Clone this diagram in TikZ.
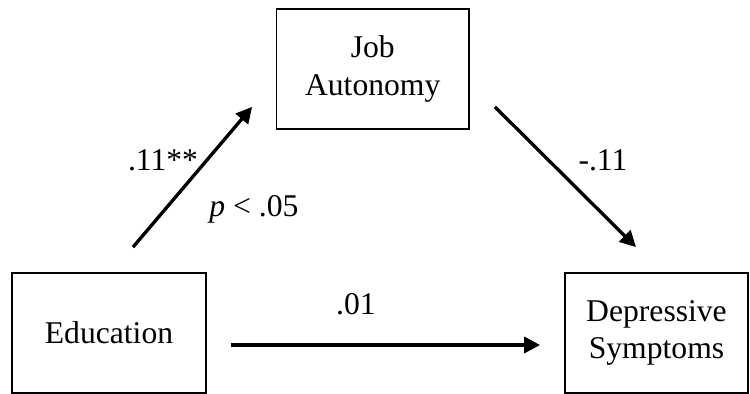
\documentclass[tikz,border=0pt]{standalone}
\usepackage{fontspec}
\setmainfont{Liberation Serif}
\usetikzlibrary{positioning,arrows.meta,calc}
\tikzset{
    >={Triangle[length=3.2mm,width=3.2mm]}
}

\begin{document}
\begin{tikzpicture}[
  varbox/.style={rectangle, draw, line width=1pt, minimum height=2.4cm, align=center, font=\fontsize{18}{21.5}\selectfont},
  pathlabel/.style={font=\fontsize{18}{21.5}\selectfont},
  arrowstyle/.style={->, line width=1.9pt}
]
  \useasboundingbox (0,0) rectangle (15,7.88);

  % The three variables
  \node[varbox, minimum width=3.85cm] (job) at (7.455,6.5)  {Job\\Autonomy};
  \node[varbox, minimum width=3.88cm] (edu) at (2.18,1.22)  {Education};
  \node[varbox, minimum width=3.66cm] (dep) at (13.13,1.22) {Depressive\\Symptoms};

  % Paths
  \draw[arrowstyle] ($(edu.north)+(0.48,0.5)$) -- ($(job.south west)+(-0.47,0.46)$);
  \draw[arrowstyle] ($(job.south east)+(0.5,0.46)$) -- ($(dep.north)+(-0.41,0.5)$);
  \draw[arrowstyle] ($(edu.east)+(0.48,-0.24)$) -- ($(dep.west)+(-0.48,-0.24)$);

  % Coefficients
  \node[pathlabel] (a)  at (3.26,4.68)  {.11**};
  \node[pathlabel] (pv) at (5.08,3.7)   {\textit{p} < .05};
  \node[pathlabel] (b)  at (12.06,4.68) {-.11};
  \node[pathlabel] (c)  at (7.12,1.8)   {.01};
\end{tikzpicture}
\end{document}
